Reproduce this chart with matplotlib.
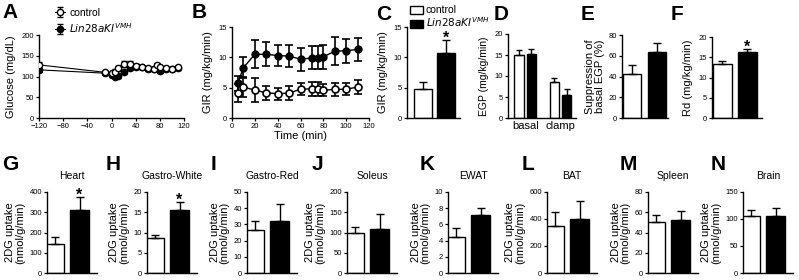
import numpy as np
import matplotlib
matplotlib.use('Agg')
import matplotlib.pyplot as plt
from matplotlib.patches import Patch

plt.rcParams['font.family'] = ['Liberation Sans', 'DejaVu Sans']

# Panel A - glucose during clamp
glu_time = [-120, -10, 0, 5, 10, 20, 30, 40, 50, 60, 70, 75, 80, 90, 100, 110]
glu_ctrl = [128, 110, 108, 112, 120, 130, 131, 125, 122, 120, 118, 127, 122, 120, 119, 122]
glu_ctrl_err = [6, 4, 4, 5, 6, 7, 6, 5, 4, 4, 4, 5, 4, 4, 4, 4]
glu_ki = [116, 108, 103, 100, 101, 110, 120, 124, 122, 118, 117, 120, 113, 118, 118, 120]
glu_ki_err = [5, 4, 4, 4, 4, 5, 5, 5, 4, 4, 4, 4, 4, 4, 4, 4]

# Panel B - GIR time course
gir_time = [5, 10, 20, 30, 40, 50, 60, 70, 75, 80, 90, 100, 110]
gir_ctrl = [4.15, 5.1, 4.6, 4.15, 4.0, 4.1, 4.75, 4.8, 4.8, 4.6, 4.7, 4.75, 5.1]
gir_ctrl_err = [1.5, 1.7, 2.0, 1.2, 1.0, 1.2, 1.0, 1.1, 1.1, 1.0, 1.0, 1.0, 1.1]
gir_ki = [5.7, 8.3, 10.5, 10.5, 10.3, 10.2, 9.7, 9.9, 9.9, 10.1, 11.0, 11.1, 11.3]
gir_ki_err = [1.2, 1.7, 2.3, 2.0, 1.8, 1.8, 1.9, 1.9, 1.9, 2.0, 2.3, 2.0, 1.9]

# Panels C-F
gir_mean = [4.8, 10.7]
gir_err = [1.1, 2.2]
egp_basal = [14.9, 15.3]
egp_basal_err = [1.2, 1.1]
egp_clamp = [8.5, 5.4]
egp_clamp_err = [1.1, 1.5]
supp_mean = [42, 64]
supp_err = [9, 8.5]
rd_mean = [13.4, 16.3]
rd_err = [0.7, 0.8]

# Panels G-N - 2DG uptake
tissues = ['Heart', 'Gastro-White', 'Gastro-Red', 'Soleus', 'EWAT', 'BAT', 'Spleen', 'Brain']
tissue_letters = ['G', 'H', 'I', 'J', 'K', 'L', 'M', 'N']
uptake_mean = [[145, 309], [8.6, 15.6], [26.5, 32.2], [98, 109], [4.4, 7.1], [350, 397], [50.6, 52.2], [105, 105]]
uptake_err = [[31, 66], [0.8, 1.9], [5.5, 10.6], [16, 36], [1.2, 0.9], [103, 135], [6.5, 9], [12, 15]]
uptake_ymax = [400, 20, 50, 200, 10, 600, 80, 150]
uptake_step = [100, 5, 10, 50, 2, 200, 20, 50]
uptake_star = [True, True, False, False, False, False, False, False]

W, H = 799, 280
fig = plt.figure(figsize=(W / 100, H / 100), dpi=100)


def axes_px(left, top, right, bottom):
    return fig.add_axes([left / W, 1 - bottom / H, (right - left) / W, (bottom - top) / H])


def style(ax, lab=5.5):
    for s in ['top', 'right']:
        ax.spines[s].set_visible(False)
    for s in ['left', 'bottom']:
        ax.spines[s].set_linewidth(1.0)
    ax.tick_params(length=2.5, width=0.9, labelsize=lab, pad=1, colors='black')


def letter(x, y, s):
    fig.text(x / W, 1 - y / H, s, fontsize=15, fontweight='bold', ha='center', va='center')


def bars(ax, x, vals, errs, width, star=False):
    ax.bar(x, vals, width=width, color=['white', 'black'], edgecolor='black', linewidth=1.0)
    ax.errorbar(x, vals, yerr=[np.zeros(len(vals)), errs], fmt='none', ecolor='black',
                elinewidth=1.0, capsize=3, capthick=1.0)
    if star:
        ax.annotate('*', (x[1], vals[1] + errs[1]), xytext=(0, -4), textcoords='offset points',
                    ha='center', va='bottom', fontsize=11.5, fontweight='bold')
    ax.set_xticks([])


# A
ax = axes_px(39, 35, 184, 118)
style(ax)
ax.errorbar(glu_time, glu_ctrl, yerr=glu_ctrl_err, color='black', lw=0.8, marker='o', ms=4.5,
            mfc='white', mec='black', mew=1.0, capsize=2, elinewidth=0.8, label='control', zorder=3)
ax.errorbar(glu_time, glu_ki, yerr=glu_ki_err, color='black', lw=0.8, marker='o', ms=4.5,
            mfc='black', mec='black', capsize=2, elinewidth=0.8, label=r'$\it{Lin28aKI}^{VMH}$', zorder=2)
ax.set_xlim(-120, 120)
ax.set_ylim(0, 200)
ax.set_xticks(range(-120, 121, 40))
ax.set_yticks(range(0, 201, 50))
ax.set_ylabel('Glucose (mg/dL)', fontsize=8, labelpad=4)
ax.legend(loc='upper left', bbox_to_anchor=(0.08, 1.38), frameon=False, fontsize=7.5,
          handlelength=1.0, handletextpad=0.4, borderaxespad=0, labelspacing=0.3)
letter(10, 13, 'A')

# B
ax = axes_px(232, 27, 369, 118)
style(ax)
ax.errorbar(gir_time, gir_ctrl, yerr=gir_ctrl_err, color='black', lw=1.0, marker='o', ms=5,
            mfc='white', mec='black', mew=1.2, capsize=3, elinewidth=1.2, capthick=1.2, zorder=3)
ax.errorbar(gir_time, gir_ki, yerr=gir_ki_err, color='black', lw=1.0, marker='o', ms=5,
            mfc='black', mec='black', capsize=3, elinewidth=1.2, capthick=1.2, zorder=2)
ax.set_xlim(0, 120)
ax.set_ylim(0, 15)
ax.set_xticks(range(0, 121, 20))
ax.set_yticks(range(0, 16, 5))
ax.set_ylabel('GIR (mg/kg/min)', fontsize=8, labelpad=4)
ax.set_xlabel('Time (min)', fontsize=8, labelpad=1)
letter(199, 13, 'B')

# C
ax = axes_px(407, 27, 460, 118)
style(ax)
bars(ax, [0, 1], gir_mean, gir_err, 0.78, star=True)
ax.set_xlim(-0.7, 1.6)
ax.set_ylim(0, 15)
ax.set_yticks(range(0, 16, 5))
ax.set_ylabel('GIR (mg/kg/min)', fontsize=8, labelpad=4)
letter(384, 15, 'C')
leg = [Patch(facecolor='white', edgecolor='black', label='control'),
       Patch(facecolor='black', edgecolor='black', label=r'$\it{Lin28aKI}^{VMH}$')]
fig.legend(handles=leg, loc='upper left', bbox_to_anchor=(406 / W, 1 - 1 / H), frameon=False,
           fontsize=7.5, handlelength=1.2, handleheight=0.8, handletextpad=0.3,
           borderaxespad=0, labelspacing=0.05)

# D
ax = axes_px(508, 34, 576, 118)
style(ax)
ax.bar([0, 1], egp_basal, width=0.75, color=['white', 'black'], edgecolor='black', linewidth=1.0)
ax.bar([2.85, 3.85], egp_clamp, width=0.75, color=['white', 'black'], edgecolor='black', linewidth=1.0)
ax.errorbar([0, 1, 2.85, 3.85], egp_basal + egp_clamp,
            yerr=[np.zeros(4), egp_basal_err + egp_clamp_err], fmt='none', ecolor='black',
            elinewidth=1.0, capsize=2.5, capthick=1.0)
ax.set_xlim(-0.9, 4.6)
ax.set_ylim(0, 20)
ax.set_yticks(range(0, 21, 5))
ax.set_xticks([0.5, 3.35])
ax.set_xticklabels(['basal', 'clamp'], fontsize=8)
ax.tick_params(axis='x', length=0, pad=2)
ax.set_ylabel('EGP (mg/kg/min)', fontsize=7.5, labelpad=4)
letter(501, 15, 'D')

# E
ax = axes_px(622, 35, 668, 118)
style(ax)
bars(ax, [0, 1], supp_mean, supp_err, 0.72)
ax.set_xlim(-0.4, 1.45)
ax.set_ylim(0, 80)
ax.set_yticks(range(0, 81, 20))
ax.set_ylabel('Suppression of\nbasal EGP (%)', fontsize=8, labelpad=3, linespacing=1.0)
letter(588, 15, 'E')

# F
ax = axes_px(712, 37, 762, 118)
style(ax)
bars(ax, [0, 1], rd_mean, rd_err, 0.76, star=True)
ax.set_xlim(-0.4, 1.6)
ax.set_ylim(0, 20)
ax.set_yticks(range(0, 21, 5))
ax.set_ylabel('Rd (mg/kg/min)', fontsize=8, labelpad=4)
letter(677, 15, 'F')

# G-N
lefts = [47, 147, 247, 347, 448, 547, 648, 743]
letter_x = [10, 113, 213, 317, 427, 528, 628, 718]
for i in range(8):
    l = lefts[i]
    ax = axes_px(l, 192, l + 50, 273)
    style(ax)
    bars(ax, [0, 1], uptake_mean[i], uptake_err[i], 0.78, star=uptake_star[i])
    ax.set_xlim(-0.3, 1.7)
    ax.set_ylim(0, uptake_ymax[i])
    ax.set_yticks(np.arange(0, uptake_ymax[i] + uptake_step[i] / 2, uptake_step[i]))
    ax.set_ylabel('2DG uptake\n(nmol/g/min)', fontsize=8, labelpad=3, linespacing=1.0)
    ax.set_title(tissues[i], fontsize=7.5, pad=9)
    letter(letter_x[i], 165, tissue_letters[i])

fig.savefig('out.png', dpi=100)
